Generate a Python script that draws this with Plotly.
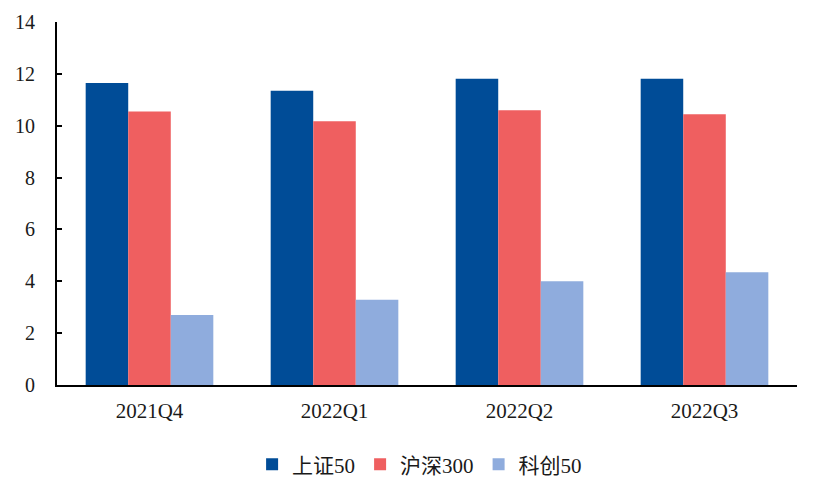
import plotly.graph_objects as go

categories = ["2021Q4", "2022Q1", "2022Q2", "2022Q3"]
sz50 = [11.65, 11.35, 11.81, 11.81]
hs300 = [10.55, 10.17, 10.60, 10.44]
kc50 = [2.70, 3.29, 4.00, 4.35]
series_names = ["上证50", "沪深300", "科创50"]
colors = ["#004C97", "#EF5F60", "#8FACDD"]
y_ticks = [0, 2, 4, 6, 8, 10, 12, 14]

fig = go.Figure()
for name, vals, c in zip(series_names, [sz50, hs300, kc50], colors):
    fig.add_trace(go.Bar(x=categories, y=vals, name=name, marker_color=c,
                         marker_line_width=0))

fig.update_layout(
    width=828, height=480,
    margin=dict(l=49, r=39, t=14, b=103, autoexpand=False),
    paper_bgcolor="white", plot_bgcolor="white",
    barmode="group", bargap=0.31, bargroupgap=0,
    font=dict(family="Liberation Serif, Noto Sans CJK SC", size=20, color="#1a1a1a"),
    showlegend=True,
    legend=dict(orientation="h", x=0.49, xanchor="center", y=-0.163, yanchor="top",
                font=dict(family="Liberation Serif, Noto Sans CJK SC", size=21),
                itemwidth=30, tracegroupgap=0),
)
fig.update_xaxes(showline=True, linecolor="black", linewidth=2, ticks="",
                 automargin=False,
                 ticklabelstandoff=6, tickfont=dict(size=21))
fig.update_yaxes(range=[0, 14], tickvals=y_ticks, showgrid=False, zeroline=False,
                 automargin=False,
                 showline=True, linecolor="black", linewidth=2,
                 ticks="inside", ticklen=5, tickcolor="black", tickwidth=1.5,
                 ticklabelstandoff=16, tickfont=dict(size=20))
fig.write_html("out.html")
